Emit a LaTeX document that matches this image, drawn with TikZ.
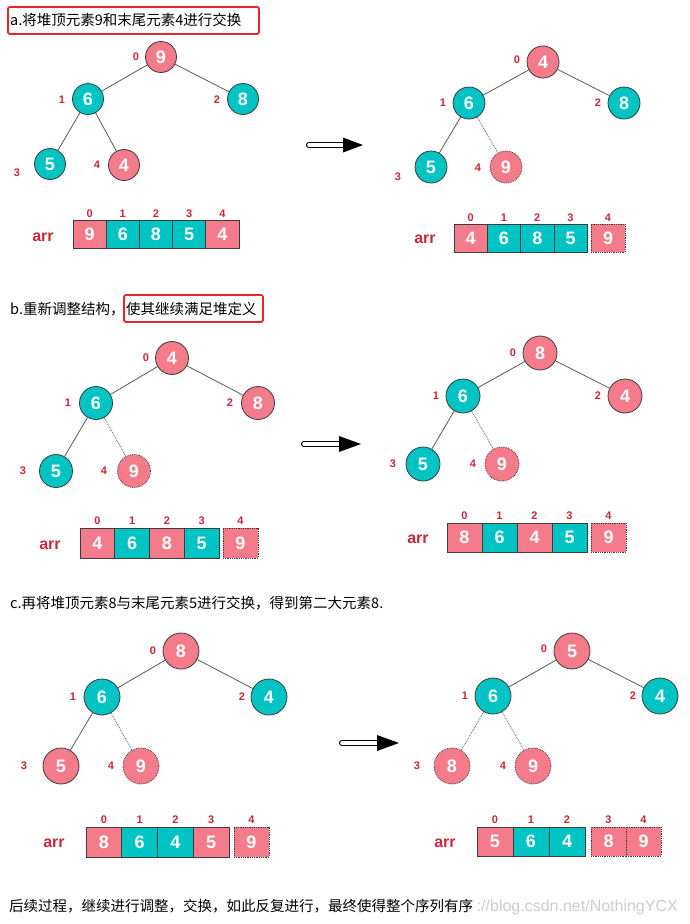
\documentclass[tikz,border=0pt]{standalone}
\usepackage{fontspec}
\setmainfont{Noto Sans CJK SC}
\newfontfamily\numf{Liberation Sans}
\definecolor{pinkc}{RGB}{244,124,138}
\definecolor{tealc}{RGB}{0,196,196}
\definecolor{labred}{RGB}{200,40,55}
\definecolor{outc}{RGB}{60,60,60}
\definecolor{edgec}{RGB}{90,90,90}
\definecolor{boxred}{RGB}{232,38,42}
\definecolor{wmark}{RGB}{205,205,205}
\tikzset{
  hn/.style={circle, draw=outc, line width=0.8pt, text=white, inner sep=0pt,
    font=\numf\bfseries\fontsize{18}{18}\selectfont},
  pk/.style={hn, fill=pinkc},
  tl/.style={hn, fill=tealc},
  pkd/.style={hn, fill=pinkc, densely dotted},
  cell/.style={rectangle, draw=outc, line width=0.8pt, text=white, inner sep=0pt,
    font=\numf\bfseries\fontsize{18}{18}\selectfont},
  cpk/.style={cell, fill=pinkc},
  ctl/.style={cell, fill=tealc},
  cpkd/.style={cell, fill=pinkc, densely dotted},
  idx/.style={text=labred, inner sep=0pt, font=\numf\bfseries\fontsize{11}{11}\selectfont},
  arrl/.style={text=labred, inner sep=0pt, font=\numf\bfseries\fontsize{16}{16}\selectfont},
  edge/.style={draw=edgec, line width=0.8pt},
  dedge/.style={draw=edgec, line width=0.8pt, densely dotted},
  title/.style={anchor=west, inner sep=0pt, font=\fontsize{14.5}{16}\selectfont},
  redbox/.style={draw=boxred, line width=1.8pt, rounded corners=2pt},
  hbar/.style={draw=black, double=white, double distance=3.6pt, line width=1.3pt, line cap=round},
}
\begin{document}
\begin{tikzpicture}[x=1pt,y=-1pt]
\fill[white] (0,0) rectangle (689,924);
\useasboundingbox (0,0) rectangle (689,924);

% ---------- titles ----------
\draw[redbox] (8,7) rectangle (259,34);
\node[title] (ta) at (10,20) {a.将堆顶元素9和末尾元素4进行交换};
\node[title] (tb) at (10,309) {b.重新调整结构，};
\draw[redbox] (124,295) rectangle (263,322);
\node[title] (tb2) at (126,309) {使其继续满足堆定义};
\node[title] (tc) at (10,603) {c.再将堆顶元素8与末尾元素5进行交换，得到第二大元素8.};
\node[anchor=east, inner sep=0pt, text=wmark, font=\numf\fontsize{16}{16}\selectfont] (wm) at (678,907) {://blog.csdn.net/NothingYCX};
\node[title] (foot) at (9,906) {后续过程，继续进行调整，交换，如此反复进行，最终使得整个序列有序};

% ---------- panel a left ----------
\begin{scope}[hn/.append style={minimum size=31}, cell/.append style={minimum width=33.2, minimum height=28}]
\node[pk] (a0) at (161,57) {9};
\node[tl] (a1) at (88,99) {6};
\node[tl] (a2) at (243,99) {8};
\node[tl] (a3) at (50,164) {5};
\node[pk] (a4) at (124,165) {4};
\draw[edge] (a0)--(a1) (a0)--(a2) (a1)--(a3) (a1)--(a4);
\node[idx] (al0) at (136,57) {0};
\node[idx] (al1) at (62,100) {1};
\node[idx] (al2) at (217,100) {2};
\node[idx] (al3) at (17,173) {3};
\node[idx] (al4) at (97,165) {4};
\node[arrl] (aarr) at (43,237) {arr};
\node[cpk] (ac0) at (89.6,234) {9};
\node[ctl] (ac1) at (122.8,234) {6};
\node[ctl] (ac2) at (156.0,234) {8};
\node[ctl] (ac3) at (189.2,234) {5};
\node[cpk] (ac4) at (222.4,234) {4};
\node[idx] (ai0) at (89.6,214) {0};
\node[idx] (ai1) at (122.8,214) {1};
\node[idx] (ai2) at (156.0,214) {2};
\node[idx] (ai3) at (189.2,214) {3};
\node[idx] (ai4) at (222.4,214) {4};
\end{scope}

% ---------- panel a right ----------
\begin{scope}[hn/.append style={minimum size=32}, cell/.append style={minimum width=33.3, minimum height=28}]
\node[pk] (b0) at (543,62) {4};
\node[tl] (b1) at (469,103) {6};
\node[tl] (b2) at (624,103) {8};
\node[tl] (b3) at (431,167) {5};
\node[pkd] (b4) at (506,167) {9};
\draw[edge] (b0)--(b1) (b0)--(b2) (b1)--(b3);
\draw[dedge] (b1)--(b4);
\node[idx] (bl0) at (517,60) {0};
\node[idx] (bl1) at (443,103) {1};
\node[idx] (bl2) at (598,103) {2};
\node[idx] (bl3) at (398,177) {3};
\node[idx] (bl4) at (478,168) {4};
\node[arrl] (barr) at (425,239) {arr};
\node[cpk] (bc0) at (470.65,238) {4};
\node[ctl] (bc1) at (503.95,238) {6};
\node[ctl] (bc2) at (537.25,238) {8};
\node[ctl] (bc3) at (570.55,238) {5};
\node[cpkd, minimum width=34] (bc4) at (608,238) {9};
\node[idx] (bi0) at (470.65,218) {0};
\node[idx] (bi1) at (503.95,218) {1};
\node[idx] (bi2) at (537.25,218) {2};
\node[idx] (bi3) at (570.55,218) {3};
\node[idx] (bi4) at (608,218) {4};
\end{scope}

% ---------- panel b left ----------
\begin{scope}[hn/.append style={minimum size=33}, cell/.append style={minimum width=34.75, minimum height=30}]
\node[pk] (c0) at (172,358) {4};
\node[tl] (c1) at (96,403) {6};
\node[pk] (c2) at (258,403) {8};
\node[tl] (c3) at (56,471) {5};
\node[pkd] (c4) at (134,471) {9};
\draw[edge] (c0)--(c1) (c0)--(c2) (c1)--(c3);
\draw[dedge] (c1)--(c4);
\node[idx] (cl0) at (146,358) {0};
\node[idx] (cl1) at (68,403) {1};
\node[idx] (cl2) at (230,403) {2};
\node[idx] (cl3) at (23,471) {3};
\node[idx] (cl4) at (104,471) {4};
\node[arrl] (carr) at (50,545) {arr};
\node[cpk] (cc0) at (97.4,543) {4};
\node[ctl] (cc1) at (132.1,543) {6};
\node[cpk] (cc2) at (166.9,543) {8};
\node[ctl] (cc3) at (201.6,543) {5};
\node[cpkd, minimum width=35] (cc4) at (240.5,543) {9};
\node[idx] (ci0) at (97.4,521) {0};
\node[idx] (ci1) at (132.1,521) {1};
\node[idx] (ci2) at (166.9,521) {2};
\node[idx] (ci3) at (201.6,521) {3};
\node[idx] (ci4) at (240.5,521) {4};
\end{scope}

% ---------- panel b right ----------
\begin{scope}[hn/.append style={minimum size=34}, cell/.append style={minimum width=35, minimum height=29}]
\node[pk] (d0) at (540,353) {8};
\node[tl] (d1) at (463,396) {6};
\node[pk] (d2) at (625,396) {4};
\node[tl] (d3) at (423,464) {5};
\node[pkd] (d4) at (502,464) {9};
\draw[edge] (d0)--(d1) (d0)--(d2) (d1)--(d3);
\draw[dedge] (d1)--(d4);
\node[idx] (dl0) at (513,353) {0};
\node[idx] (dl1) at (436,396) {1};
\node[idx] (dl2) at (598,396) {2};
\node[idx] (dl3) at (393,464) {3};
\node[idx] (dl4) at (473,464) {4};
\node[arrl] (darr) at (418,539) {arr};
\node[cpk] (dc0) at (464.5,537.5) {8};
\node[ctl] (dc1) at (499.5,537.5) {6};
\node[cpk] (dc2) at (534.5,537.5) {4};
\node[ctl] (dc3) at (569.5,537.5) {5};
\node[cpkd] (dc4) at (608.5,537.5) {9};
\node[idx] (di0) at (464.5,516) {0};
\node[idx] (di1) at (499.5,516) {1};
\node[idx] (di2) at (534.5,516) {2};
\node[idx] (di3) at (569.5,516) {3};
\node[idx] (di4) at (608.5,516) {4};
\end{scope}

% ---------- panel c left ----------
\begin{scope}[hn/.append style={minimum size=36}, cell/.append style={minimum width=35.75, minimum height=30}]
\node[pk] (e0) at (181,651) {8};
\node[tl] (e1) at (102,697) {6};
\node[tl] (e2) at (269,697) {4};
\node[pk] (e3) at (61,766) {5};
\node[pkd] (e4) at (141,766) {9};
\draw[edge] (e0)--(e1) (e0)--(e2) (e1)--(e3);
\draw[dedge] (e1)--(e4);
\node[idx] (el0) at (153,651) {0};
\node[idx] (el1) at (73,697) {1};
\node[idx] (el2) at (242,697) {2};
\node[idx] (el3) at (24,766) {3};
\node[idx] (el4) at (111,766) {4};
\node[arrl] (earr) at (54,843) {arr};
\node[cpk] (ec0) at (103.9,842) {8};
\node[ctl] (ec1) at (139.6,842) {6};
\node[ctl] (ec2) at (175.4,842) {4};
\node[cpk] (ec3) at (211.1,842) {5};
\node[cpkd, minimum width=35] (ec4) at (251.5,842) {9};
\node[idx] (ei0) at (103.9,820) {0};
\node[idx] (ei1) at (139.6,820) {1};
\node[idx] (ei2) at (175.4,820) {2};
\node[idx] (ei3) at (211.1,820) {3};
\node[idx] (ei4) at (251.5,820) {4};
\end{scope}

% ---------- panel c right ----------
\begin{scope}[hn/.append style={minimum size=36}, cell/.append style={minimum width=36, minimum height=29}]
\node[pk] (f0) at (572,651) {5};
\node[tl] (f1) at (493,696) {6};
\node[tl] (f2) at (660,696) {4};
\node[pkd] (f3) at (452,766) {8};
\node[pkd] (f4) at (533,766) {9};
\draw[edge] (f0)--(f1) (f0)--(f2);
\draw[dedge] (f1)--(f3) (f1)--(f4);
\node[idx] (fl0) at (544,649) {0};
\node[idx] (fl1) at (465,696) {1};
\node[idx] (fl2) at (633,696) {2};
\node[idx] (fl3) at (417,766) {3};
\node[idx] (fl4) at (503,766) {4};
\node[arrl] (farr) at (445,843) {arr};
\node[cpk] (fc0) at (495,841.5) {5};
\node[ctl] (fc1) at (531,841.5) {6};
\node[ctl] (fc2) at (567,841.5) {4};
\node[cpkd, minimum width=35] (fc3) at (608.5,841.5) {8};
\node[cpkd, minimum width=35] (fc4) at (643.5,841.5) {9};
\node[idx] (fi0) at (495,820) {0};
\node[idx] (fi1) at (531,820) {1};
\node[idx] (fi2) at (567,820) {2};
\node[idx] (fi3) at (608.5,820) {3};
\node[idx] (fi4) at (643.5,820) {4};
\end{scope}

% ---------- arrows ----------
\coordinate (r1s) at (309,145); \coordinate (r1b) at (343,145); \coordinate (r1t) at (363,145);
\coordinate (r2s) at (304,444); \coordinate (r2b) at (339,444); \coordinate (r2t) at (361,444);
\coordinate (r3s) at (342,743); \coordinate (r3b) at (377,743); \coordinate (r3t) at (399,743);
\draw[hbar] (r1s) -- (r1b);
\fill[black] ([yshift=7.5pt]r1b) -- (r1t) -- ([yshift=-7.5pt]r1b) -- cycle;
\draw[hbar] (r2s) -- (r2b);
\fill[black] ([yshift=8pt]r2b) -- (r2t) -- ([yshift=-8pt]r2b) -- cycle;
\draw[hbar] (r3s) -- (r3b);
\fill[black] ([yshift=8pt]r3b) -- (r3t) -- ([yshift=-8pt]r3b) -- cycle;
\end{tikzpicture}
\end{document}
